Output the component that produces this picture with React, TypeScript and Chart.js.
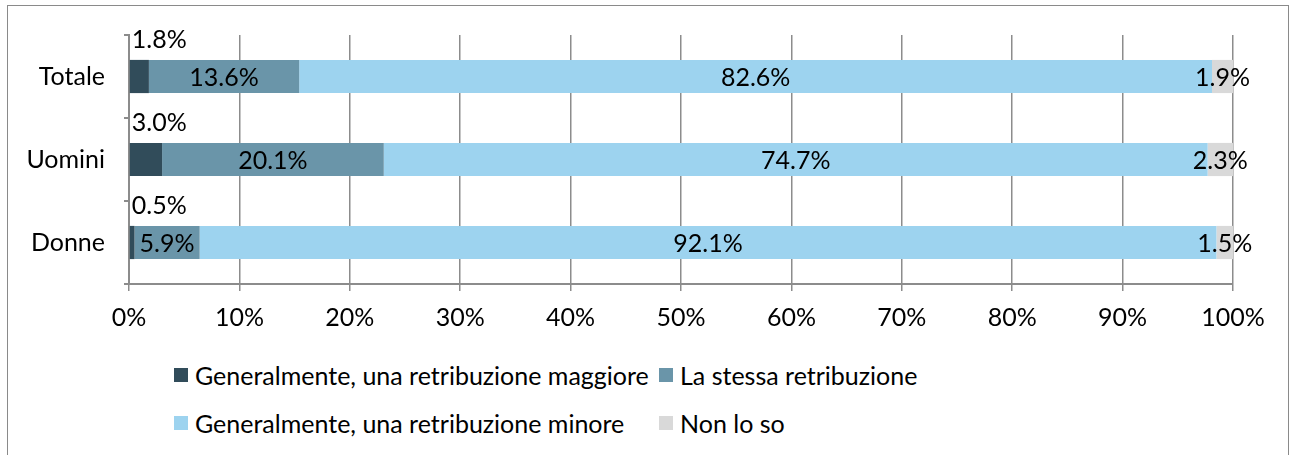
import React, { useEffect, useRef } from "react";
import { Chart, registerables } from "chart.js";

Chart.register(...registerables);

const categories = ["Totale", "Uomini", "Donne"];
const seriesNames = [
  "Generalmente, una retribuzione maggiore",
  "La stessa retribuzione",
  "Generalmente, una retribuzione minore",
  "Non lo so",
];
const maggiore = [1.8, 3.0, 0.5];
const stessa = [13.6, 20.1, 5.9];
const minore = [82.6, 74.7, 92.1];
const nonLoSo = [1.9, 2.3, 1.5];
const xTickValues = [0, 10, 20, 30, 40, 50, 60, 70, 80, 90, 100];
const seriesColors = ["#314C5A", "#6A95A9", "#9DD3EF", "#D9D9D9"];

const FONT = "Lato";
const FS = 25;
const AXIS = "#8C8C8C";
const CANVAS_W = 1292;
const CANVAS_H = 340;

const rawSeries = [maggiore, stessa, minore, nonLoSo];
const totals = categories.map((_, i) => rawSeries.reduce((s, arr) => s + arr[i], 0));
const normalized = rawSeries.map((arr) => arr.map((v, i) => (v / totals[i]) * 100));

const labelPlugin = {
  id: "segLabels",
  afterDatasetsDraw(chart: any) {
    const ctx = chart.ctx;
    ctx.save();
    ctx.font = `${FS}px ${FONT}`;
    ctx.fillStyle = "#000";
    chart.data.datasets.forEach((_: any, di: number) => {
      const meta = chart.getDatasetMeta(di);
      meta.data.forEach((bar: any, i: number) => {
        const text = rawSeries[di][i].toFixed(1) + "%";
        const p = bar.getProps(["x", "y", "base", "height"], true);
        if (di === 0) {
          ctx.textAlign = "left";
          ctx.textBaseline = "alphabetic";
          ctx.fillText(text, p.base + 2, p.y - p.height / 2 - 12);
        } else {
          ctx.textAlign = "center";
          ctx.textBaseline = "middle";
          ctx.fillText(text, (p.x + p.base) / 2, p.y + 1);
        }
      });
    });
    ctx.restore();
  },
};

export default function App() {
  const ref = useRef<HTMLCanvasElement | null>(null);

  useEffect(() => {
    if (!ref.current) return;
    const chart = new Chart(ref.current, {
      type: "bar",
      data: {
        labels: categories,
        datasets: normalized.map((data, di) => ({
          label: seriesNames[di],
          data,
          backgroundColor: seriesColors[di],
          borderWidth: 0,
          categoryPercentage: 1,
          barPercentage: 0.4,
        })),
      },
      options: {
        indexAxis: "y",
        responsive: false,
        animation: false,
        layout: { padding: { top: 35, right: 59, left: 0, bottom: 0 } },
        plugins: {
          legend: { display: false },
          tooltip: { enabled: false },
        },
        scales: {
          x: {
            stacked: true,
            min: 0,
            max: 100,
            afterBuildTicks: (s: any) => {
              s.ticks = xTickValues.map((v) => ({ value: v }));
            },
            afterFit: (s: any) => {
              s.height = CANVAS_H - 284;
            },
            ticks: {
              callback: (v: any) => `${v}%`,
              color: "#000",
              font: { family: FONT, size: FS },
              padding: 12,
              maxRotation: 0,
            },
            grid: { color: AXIS, lineWidth: 1.5, tickLength: 7, drawTicks: true },
            border: { color: AXIS, width: 2 },
          },
          y: {
            stacked: true,
            afterFit: (s: any) => {
              s.width = 129;
            },
            ticks: {
              color: "#000",
              font: { family: FONT, size: FS },
              padding: 19,
            },
            grid: {
              drawOnChartArea: false,
              drawTicks: true,
              tickLength: 5,
              color: AXIS,
              lineWidth: 2,
              offset: true,
            },
            border: { color: AXIS, width: 2 },
          },
        },
      } as any,
      plugins: [labelPlugin],
    });
    return () => chart.destroy();
  }, []);

  const legendRows = [
    [0, 1],
    [2, 3],
  ];
  const rowY = [375, 423];
  const colX = [174, 659];

  return (
    <div style={{ position: "absolute", left: 0, top: 0, width: 1292, height: 455, overflow: "hidden", background: "#fff" }}>
      <div
        style={{
          position: "absolute",
          left: 7,
          top: 5,
          width: 1282,
          height: 470,
          border: "1px solid #8A8A8A",
          boxSizing: "border-box",
        }}
      />
      <canvas ref={ref} width={CANVAS_W} height={CANVAS_H} style={{ position: "absolute", left: 0, top: 0 }} />
      {legendRows.map((row, ri) =>
        row.map((si, ci) => (
          <div
            key={si}
            style={{
              position: "absolute",
              left: colX[ci],
              top: rowY[ri] - 16,
              height: 32,
              display: "flex",
              alignItems: "center",
              fontFamily: FONT,
              fontSize: FS,
              color: "#000",
              whiteSpace: "nowrap",
            }}
          >
            <span style={{ display: "inline-block", width: 14, height: 14, background: seriesColors[si], marginRight: 7 }} />
            <span>{seriesNames[si]}</span>
          </div>
        ))
      )}
    </div>
  );
}
